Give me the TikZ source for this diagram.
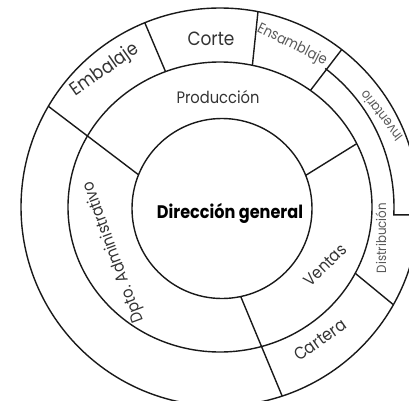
\documentclass[tikz,border=0pt]{standalone}
\usepackage{fontspec}
\setmainfont{Poppins}
\usetikzlibrary{calc}
\newcommand{\fitw}[2]{\scalebox{1}[1.13]{\resizebox{#1}{!}{#2}}}
\begin{document}
\begin{tikzpicture}[x=1pt,y=1pt,
  ringline/.style={draw=black!90, line width=1.4pt},
  lbl/.style={text=black!80, inner sep=0pt},
  lbllight/.style={text=black!65, inner sep=0pt}]
\useasboundingbox (0,0) rectangle (409,400);
\clip (0,0) rectangle (409,400);
\begin{scope}[shift={(220,193)}]
  \coordinate (ic) at (2,-1.5);
  \draw[ringline] (0,0) circle [radius=199];
  \draw[ringline] (0,0) ellipse [x radius=152, y radius=145];
  \draw[ringline] (ic) circle [radius=90];
  % dividers
  \draw[ringline] ($(ic)+(158:90)$) -- (149.6:199);
  \draw[ringline] (111:152 and 145) -- (112.2:199);
  \draw[ringline] (77.7:152 and 145) -- (79:199);
  \draw[ringline] (53.5:152 and 145) -- (52.3:199);
  \draw[ringline] ($(ic)+(21.6:90)$) -- (25.9:152 and 145);
  \draw[ringline] ($(ic)+(-78:90)$) -- (-71.8:199);
  \draw[ringline] (-27.2:152 and 145) -- (-29.4:199);
  % inventario band
  \draw[ringline] (52.8:174) arc[start angle=52.8, end angle=-2.6, radius=174] -- (215,-7.9);
\end{scope}
\node[lbl, text=black, font=\bfseries, anchor=base] (dg) at (230,182) {\fitw{146pt}{Dirección general}};
\node[lbl, anchor=base] (pro) at (218,297) {\fitw{83pt}{Producción}};
\node[lbl, anchor=base] (cor) at (211,355) {\fitw{47pt}{Corte}};
\node[lbl, rotate=35] (emb) at (105,330) {\fitw{78pt}{Embalaje}};
\node[lbllight, rotate=-26.6] (ens) at (292,355) {\fitw{76pt}{Ensamblaje}};
\node[lbllight, rotate=128] (inv) at (381,284) {\fitw{60pt}{Inventario}};
\node[lbllight, rotate=90] (dis) at (381,162) {\fitw{70pt}{Distribución}};
\node[lbl, rotate=44] (ven) at (325,135) {\fitw{52pt}{Ventas}};
\node[lbl, rotate=35] (car) at (320,60) {\fitw{59pt}{Cartera}};
\node[lbl, rotate=110.4] (adm) at (114,148) {\fitw{149pt}{Dpto. Administrativo}};
\end{tikzpicture}
\end{document}
